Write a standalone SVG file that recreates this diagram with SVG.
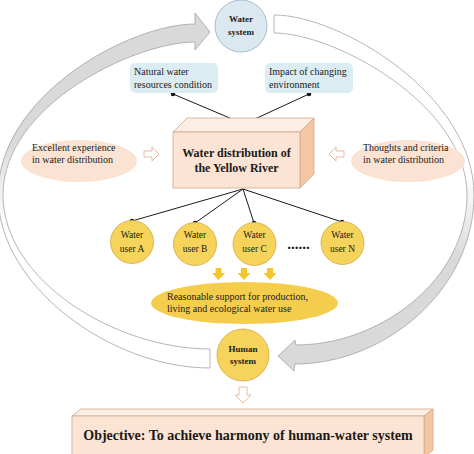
<svg xmlns="http://www.w3.org/2000/svg" width="474" height="454" viewBox="0 0 474 454">
<defs>
<linearGradient id="gL" gradientUnits="userSpaceOnUse" x1="0" y1="140" x2="0" y2="225"><stop offset="0" stop-color="#d9d9d9"/><stop offset="1" stop-color="#ffffff"/></linearGradient>
<linearGradient id="gR" gradientUnits="userSpaceOnUse" x1="0" y1="175" x2="0" y2="260"><stop offset="0" stop-color="#ffffff"/><stop offset="1" stop-color="#d9d9d9"/></linearGradient>
</defs>
<style>
text{font-family:"Liberation Serif","Times New Roman",serif;fill:#1a1a1a}
.b{font-weight:bold}
.band{stroke:#a3a3a3;stroke-width:0.8}
.gold{fill:#f6d35b;stroke:#d2aa45;stroke-width:0.8}
.peach{fill:#fbe3d3}
.blue{fill:#dbedf3}
.hollow{fill:#ffffff;stroke:#e4b393;stroke-width:0.9}
.ln{stroke:#1a1a1a;stroke-width:1;fill:none}
.dot{fill:#1a1a1a}
.bx{stroke:#cfa88c;stroke-width:0.8}
</style>
<rect width="474" height="454" fill="#ffffff"/>

<g id="cycle-arrows">
<path class="band" fill="url(#gL)" d="M 210,368 C 110,368 -2,285 -2,195 C -2,95 130,24 195,24 L 195,13 L 210,32 L 195,50 L 195,42 C 135,42 3,105 3,195 C 3,280 115,349 210,349 Z"/>
<path class="band" fill="url(#gR)" d="M 274,15 C 340,15 474,95 474,195 C 474,290 385,364 295,364 L 294,371 L 278,356 L 295,340 L 296,345 C 380,345 467,280 467,195 C 467,105 335,33 274,33 Z"/>
</g>

<g id="connectors">
<line class="ln" x1="173" y1="94" x2="244" y2="124"/>
<line class="ln" x1="309" y1="94" x2="244" y2="124"/>
<circle class="dot" cx="173" cy="94" r="2.3"/>
<circle class="dot" cx="309" cy="94" r="2.3"/>
<circle class="dot" cx="244" cy="124" r="2.3"/>
<line class="ln" x1="243" y1="189" x2="132" y2="221"/>
<line class="ln" x1="243" y1="189" x2="195" y2="223"/>
<line class="ln" x1="243" y1="189" x2="254" y2="223"/>
<line class="ln" x1="243" y1="189" x2="342" y2="222"/>
<circle class="dot" cx="132" cy="221" r="2.3"/>
<circle class="dot" cx="195" cy="223" r="2.3"/>
<circle class="dot" cx="254" cy="223" r="2.3"/>
<circle class="dot" cx="342" cy="222" r="2.3"/>
<polygon class="hollow" points="144,151 152,151 152,147 159,154 152,161 152,157 144,157"/>
<polygon class="hollow" points="344,151 336,151 336,147 329,154 336,161 336,157 344,157"/>
<polygon class="hollow" points="239,387 247,387 247,395 251,395 243,403 235,395 239,395"/>
<polygon fill="#f5c52e" points="215.5,268 221.5,268 221.5,273 225,273 218.5,280 212,273 215.5,273"/>
<polygon fill="#f5c52e" points="241,268 247,268 247,273 250.5,273 244,280 237.5,273 241,273"/>
<polygon fill="#f5c52e" points="267,268 273,268 273,273 276.5,273 270,280 263.5,273 267,273"/>
</g>

<g id="water-system">
<circle cx="241" cy="26" r="26" fill="#dae8f0" stroke="#9fb8c7" stroke-width="0.9"/>
<text class="b" x="241" y="22" font-size="9" text-anchor="middle">Water</text>
<text class="b" x="241" y="35" font-size="9" text-anchor="middle">system</text>
</g>

<g id="natural-water">
<rect class="blue" x="130" y="63" width="88" height="30" rx="5"/>
<text x="134" y="75" font-size="10">Natural water</text>
<text x="134" y="87.5" font-size="10">resources condition</text>
</g>

<g id="impact-env">
<rect class="blue" x="265" y="63" width="88" height="30" rx="5"/>
<text x="269" y="75" font-size="10">Impact of changing</text>
<text x="269" y="87.5" font-size="10">environment</text>
</g>

<g id="excellent-experience">
<ellipse class="peach" cx="79" cy="161" rx="58" ry="21"/>
<text x="32" y="151" font-size="10">Excellent experience</text>
<text x="32" y="163" font-size="10">in water distribution</text>
</g>

<g id="thoughts-criteria">
<ellipse class="peach" cx="408" cy="161" rx="57" ry="21"/>
<text x="363" y="151" font-size="10">Thoughts and criteria</text>
<text x="363" y="163" font-size="10">in water distribution</text>
</g>

<g id="yellow-river">
<polygon class="bx" fill="#fdeee4" points="173,132 187,118 314,118 300,132"/>
<polygon class="bx" fill="#f5c6a3" points="300,132 314,118 314,174 300,188"/>
<rect class="bx" x="173" y="132" width="127" height="56" fill="#fce4d4"/>
<text class="b" x="236.5" y="157" font-size="12" text-anchor="middle">Water distribution of</text>
<text class="b" x="236.5" y="172" font-size="12" text-anchor="middle">the Yellow River</text>
</g>

<g id="user-a">
<circle class="gold" cx="132" cy="242" r="21.5"/>
<text x="132" y="238" font-size="9.5" text-anchor="middle">Water</text>
<text x="132" y="252" font-size="9.5" text-anchor="middle">user A</text>
</g>
<g id="user-b">
<circle class="gold" cx="195" cy="244" r="21.5"/>
<text x="195" y="238" font-size="9.5" text-anchor="middle">Water</text>
<text x="195" y="252" font-size="9.5" text-anchor="middle">user B</text>
</g>
<g id="user-c">
<circle class="gold" cx="254.5" cy="244" r="21.5"/>
<text x="254.5" y="238" font-size="9.5" text-anchor="middle">Water</text>
<text x="254.5" y="252" font-size="9.5" text-anchor="middle">user C</text>
</g>
<g id="ellipsis">
<text class="b" x="298.5" y="249" font-size="15" text-anchor="middle">......</text>
</g>
<g id="user-n">
<circle class="gold" cx="342.5" cy="243" r="21.5"/>
<text x="342.5" y="238" font-size="9.5" text-anchor="middle">Water</text>
<text x="342.5" y="252" font-size="9.5" text-anchor="middle">user N</text>
</g>

<g id="reasonable-support">
<ellipse cx="244.5" cy="303" rx="93.5" ry="21" fill="#f5cd4d"/>
<text x="167" y="300" font-size="10">Reasonable support for production,</text>
<text x="167" y="312" font-size="10">living and ecological water use</text>
</g>

<g id="human-system">
<circle class="gold" cx="243" cy="355" r="26"/>
<text class="b" x="243" y="352" font-size="9" text-anchor="middle">Human</text>
<text class="b" x="243" y="364" font-size="9" text-anchor="middle">system</text>
</g>

<g id="objective">
<polygon class="bx" fill="#fdeee4" points="72,416 81,409 433,409 424,416"/>
<polygon class="bx" fill="#f5c6a3" points="424,416 433,409 433,450 424,458"/>
<rect class="bx" x="72" y="416" width="352" height="42" fill="#fce4d4"/>
<text class="b" x="248" y="440" font-size="14" text-anchor="middle">Objective: To achieve harmony of human-water system</text>
</g>
</svg>
